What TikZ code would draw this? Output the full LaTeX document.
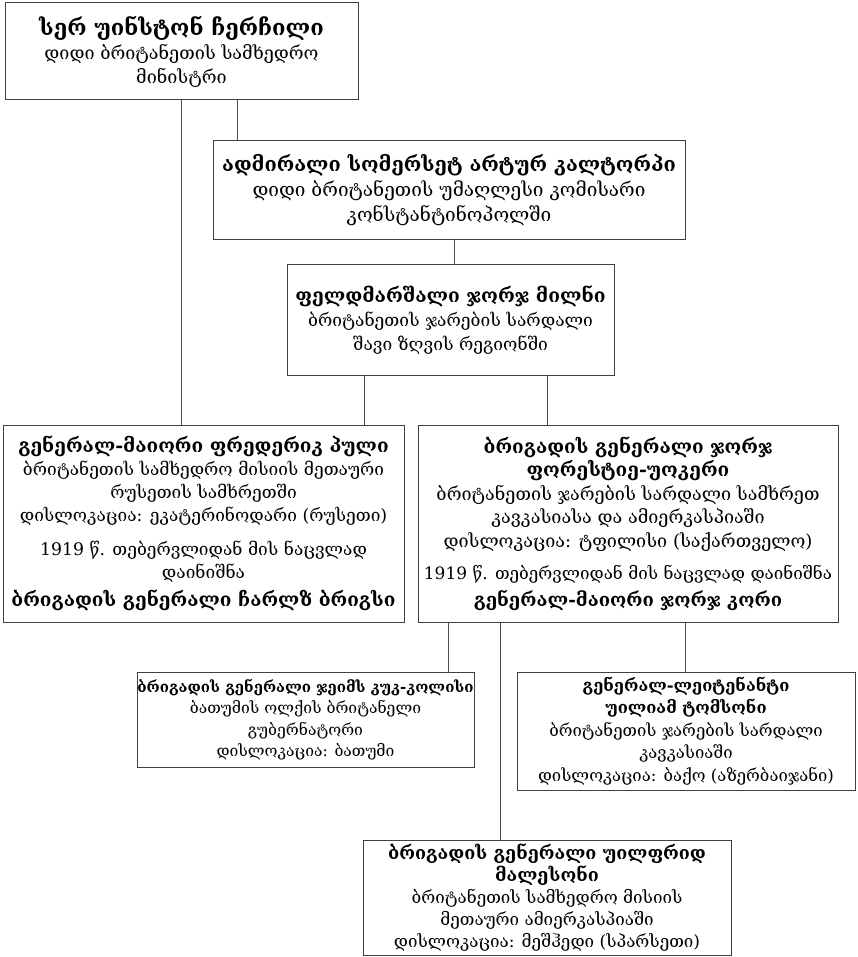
\documentclass[tikz,border=0pt]{standalone}
\usepackage{fontspec}
\setmainfont{DejaVu Serif}
\begin{document}
\begin{tikzpicture}[x=1pt,y=-1pt,
  box/.style={draw=black!75, line width=1pt, fill=white, align=center, inner sep=0pt},
  conn/.style={draw=black!70, line width=0.9pt}]
\newcommand{\ttl}[2]{{\fontsize{#1}{#1}\selectfont\bfseries #2}}
\newcommand{\fs}[1]{\fontsize{#1}{#1}\selectfont}
\useasboundingbox (0,0) rectangle (857,957);
\node[box, minimum width=353, minimum height=97, font=\fontsize{18}{24}\selectfont] (b1) at (181.5,51.5)
 {\ttl{22}{სერ უინსტონ ჩერჩილი}\\ დიდი ბრიტანეთის სამხედრო\\ მინისტრი};
\node[box, minimum width=472, minimum height=99, font=\fontsize{19}{25}\selectfont] (b2) at (449,190.5)
 {\ttl{20}{ადმირალი სომერსეტ არტურ კალტორპი}\\ დიდი ბრიტანეთის უმაღლესი კომისარი\\ კონსტანტინოპოლში};
\node[box, minimum width=327, minimum height=110, font=\fontsize{17.4}{24}\selectfont] (b3) at (450.5,320)
 {\ttl{19.2}{ფელდმარშალი ჯორჯ მილნი}\\ ბრიტანეთის ჯარების სარდალი\\ შავი ზღვის რეგიონში};
\node[box, minimum width=401, minimum height=197, font=\fontsize{17.3}{23}\selectfont] (b4) at (203.5,523.5)
 {\ttl{19}{გენერალ-მაიორი ფრედერიკ პული}\\ ბრიტანეთის სამხედრო მისიის მეთაური\\ რუსეთის სამხრეთში\\ დისლოკაცია: ეკატერინოდარი (რუსეთი)\\[11pt] 1919 წ. თებერვლიდან მის ნაცვლად\\ დაინიშნა\\[5pt] \ttl{19}{ბრიგადის გენერალი ჩარლზ ბრიგსი}};
\node[box, minimum width=420, minimum height=197, font=\fontsize{18}{23.5}\selectfont] (b5) at (628,523.5)
 {\ttl{19}{ბრიგადის გენერალი ჯორჯ}\\ \ttl{19}{ფორესტიე-უოკერი}\\ ბრიტანეთის ჯარების სარდალი სამხრეთ\\ კავკასიასა და ამიერკასპიაში\\ დისლოკაცია: ტფილისი (საქართველო)\\[9pt] {\fs{17}1919 წ. თებერვლიდან მის ნაცვლად დაინიშნა}\\[3pt] \ttl{18.5}{გენერალ-მაიორი ჯორჯ კორი}};
\node[box, minimum width=337, minimum height=95, font=\fontsize{15.7}{21.5}\selectfont] (b6) at (305.5,719.5)
 {\ttl{15}{ბრიგადის გენერალი ჯეიმს კუკ-კოლისი}\\ ბათუმის ოლქის ბრიტანელი\\ გუბერნატორი\\ დისლოკაცია: ბათუმი};
\node[box, minimum width=338, minimum height=118, font=\fontsize{16.7}{22.5}\selectfont] (b7) at (686,731)
 {\ttl{16.5}{გენერალ-ლეიტენანტი}\\ \ttl{16.5}{უილიამ ტომსონი}\\ ბრიტანეთის ჯარების სარდალი\\ კავკასიაში\\ დისლოკაცია: ბაქო (აზერბაიჯანი)};
\node[box, minimum width=368, minimum height=115, font=\fontsize{17}{22}\selectfont] (b8) at (547,897.5)
 {\ttl{18}{ბრიგადის გენერალი უილფრიდ}\\ \ttl{18}{მალესონი}\\ ბრიტანეთის სამხედრო მისიის\\ მეთაური ამიერკასპიაში\\ დისლოკაცია: მეშჰედი (სპარსეთი)};
\draw[conn] (181,0 |- b1.south) -- (181,0 |- b4.north);
\draw[conn] (237,0 |- b1.south) -- (237,0 |- b2.north);
\draw[conn] (454,0 |- b2.south) -- (454,0 |- b3.north);
\draw[conn] (364,0 |- b3.south) -- (364,0 |- b4.north);
\draw[conn] (547,0 |- b3.south) -- (547,0 |- b5.north);
\draw[conn] (448,0 |- b5.south) -- (448,0 |- b6.north);
\draw[conn] (500,0 |- b5.south) -- (500,0 |- b8.north);
\draw[conn] (685,0 |- b5.south) -- (685,0 |- b7.north);
\end{tikzpicture}
\end{document}
